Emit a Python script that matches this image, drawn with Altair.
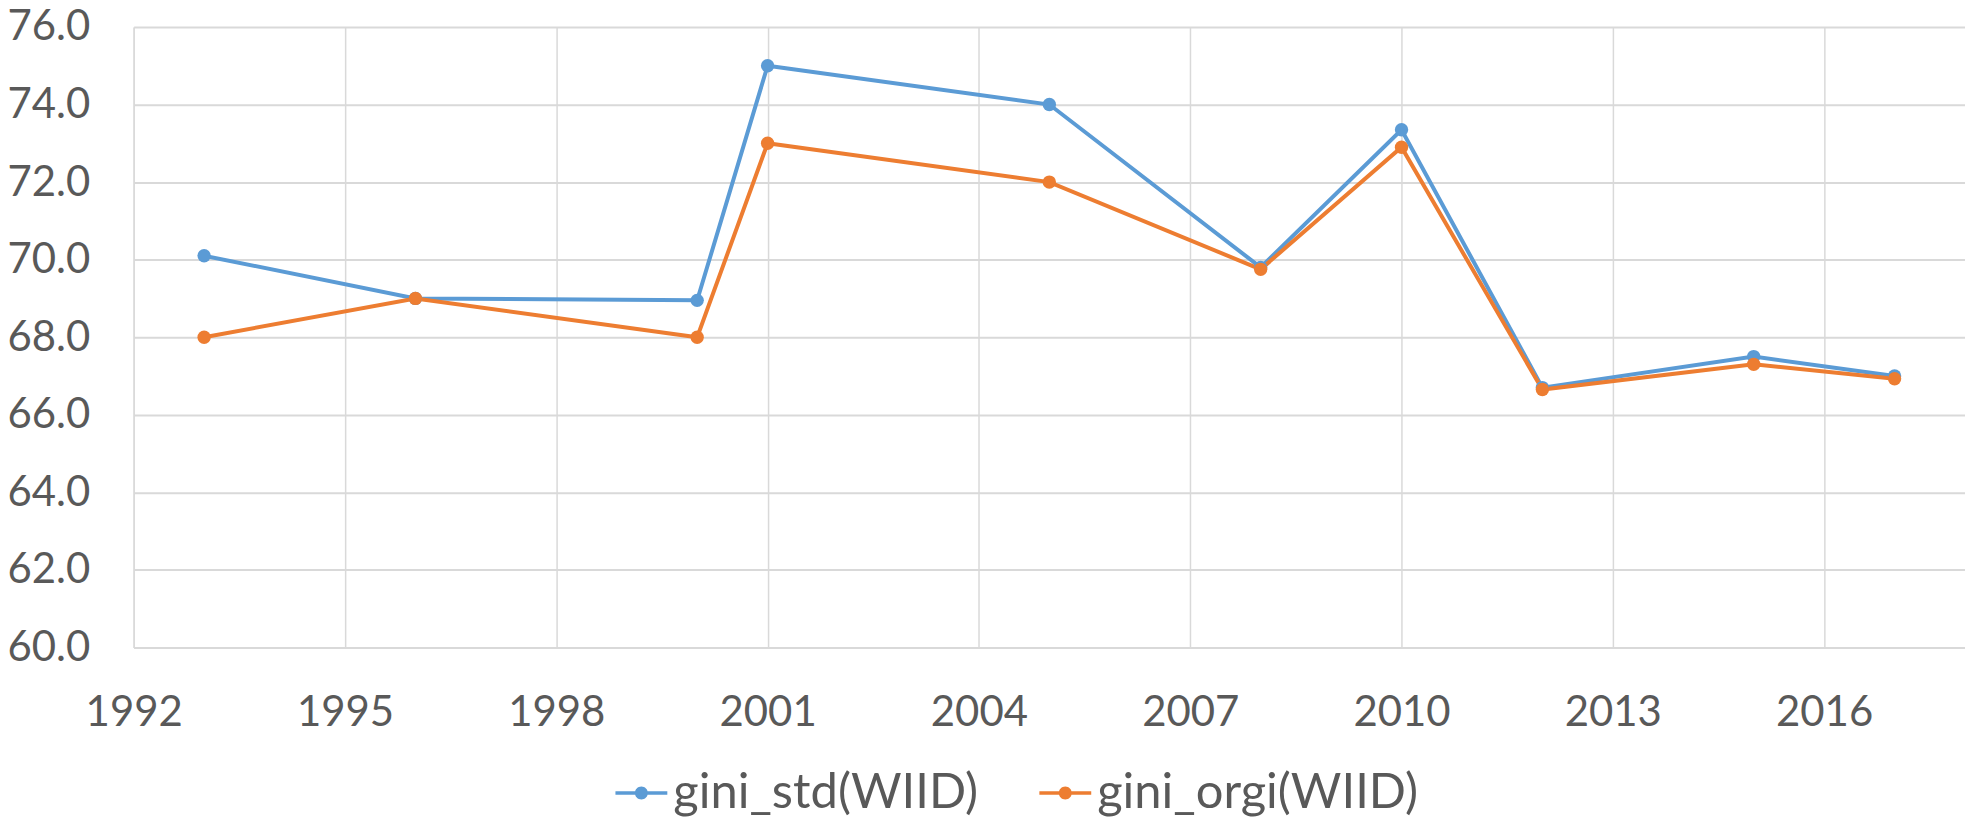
import altair as alt
import pandas as pd

years = [1993, 1996, 2000, 2001, 2005, 2008, 2010, 2012, 2015, 2017]
gini_std = [70.1, 69.0, 68.95, 75.0, 74.0, 69.8, 73.35, 66.7, 67.5, 67.0]
gini_orgi = [68.0, 69.0, 68.0, 73.0, 72.0, 69.75, 72.9, 66.65, 67.3, 66.93]
series_names = ["gini_std(WIID)", "gini_orgi(WIID)"]
series_colors = ["#5B9BD5", "#ED7D31"]
x_ticks = [1992, 1995, 1998, 2001, 2004, 2007, 2010, 2013, 2016]
y_ticks = [60, 62, 64, 66, 68, 70, 72, 74, 76]

rows = []
for name, vals in zip(series_names, [gini_std, gini_orgi]):
    for yr, v in zip(years, vals):
        rows.append({"year": yr, "value": v, "series": name})
df = pd.DataFrame(rows)

FONT = "Lato"
LBL = "#595959"
GRID = "#D9D9D9"

legend_path = ("M-1,-0.07 L1,-0.07 L1,0.07 L-1,0.07 Z "
               "M-0.25,0 A0.25,0.25 0 1,1 0.25,0 A0.25,0.25 0 1,1 -0.25,0 Z")

color = alt.Color(
    "series:N",
    scale=alt.Scale(domain=series_names, range=series_colors),
    sort=series_names,
    legend=alt.Legend(
        title=None,
        orient="none",
        direction="horizontal",
        legendX=483,
        legendY=742,
        padding=0,
        symbolType=legend_path,
        symbolSize=2704,
        symbolStrokeWidth=0,
        symbolOpacity=1,
        labelFont=FONT,
        labelFontSize=49,
        labelColor=LBL,
        labelOffset=6,
        columnPadding=61,
        labelLimit=0,
    ),
)

x = alt.X(
    "year:Q",
    scale=alt.Scale(domain=[1992, 2018], nice=False, zero=False),
    axis=alt.Axis(
        values=x_ticks, format="d", title=None, grid=True, gridColor=GRID,
        gridWidth=1.5, domainColor=GRID, domainWidth=2, ticks=False,
        labelFont=FONT, labelFontSize=42, labelColor=LBL, labelPadding=45,
        labelFlush=False,
    ),
)
y = alt.Y(
    "value:Q",
    scale=alt.Scale(domain=[60, 76], nice=False, zero=False),
    axis=alt.Axis(
        values=y_ticks, format=".1f", title=None, grid=True, gridColor=GRID,
        gridWidth=2, domainColor=GRID, domainWidth=1.5, ticks=False,
        labelFont=FONT, labelFontSize=42, labelColor=LBL, labelPadding=44,
    ),
)

base = alt.Chart(df)
lines = base.mark_line(strokeWidth=4).encode(x=x, y=y, color=color)
points = base.mark_point(filled=True, size=180, opacity=1, shape="circle").encode(
    x=x, y=y, color=color
)

chart = (
    alt.layer(lines, points)
    .properties(
        width=1836,
        height=622,
        autosize=alt.AutoSizeParams(type="none"),
        padding={"left": 126, "top": 18, "right": 0, "bottom": 171},
        background="white",
    )
    .configure_view(stroke=None)
)

chart.save("out.html", embed_options={"renderer": "svg", "actions": False})
